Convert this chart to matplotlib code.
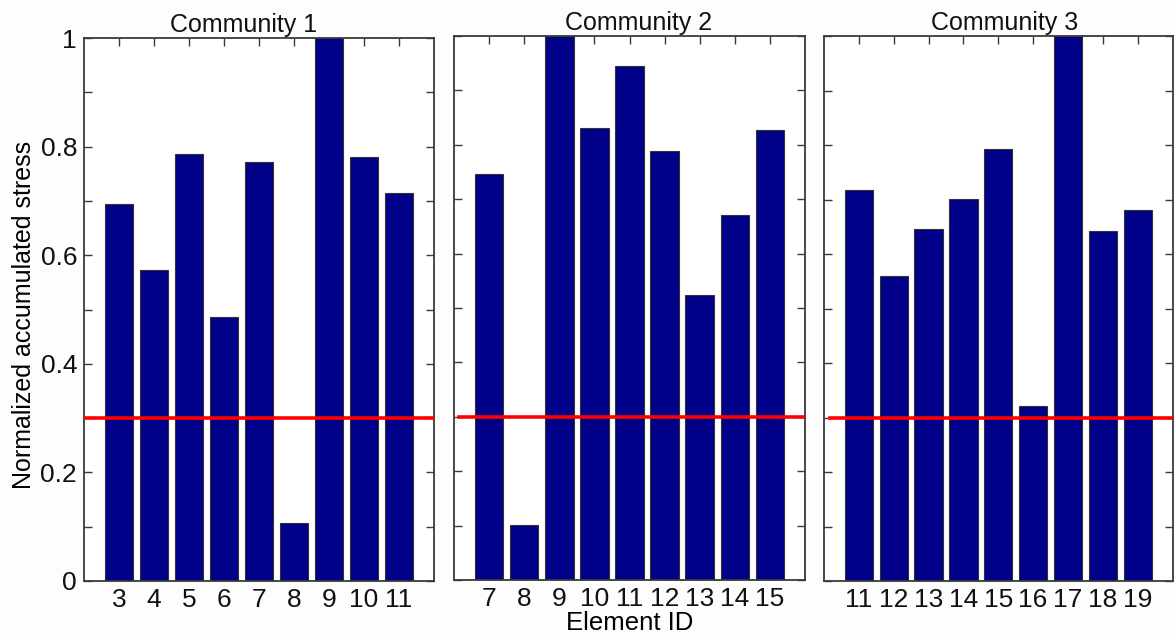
import matplotlib
matplotlib.use("Agg")
import matplotlib.pyplot as plt
import numpy as np

plt.rcParams['font.family'] = ['Liberation Sans', 'DejaVu Sans']

titles = ["Community 1", "Community 2", "Community 3"]
ids1 = [3, 4, 5, 6, 7, 8, 9, 10, 11]
vals1 = [0.695, 0.572, 0.786, 0.486, 0.771, 0.107, 1.0, 0.780, 0.715]
ids2 = [7, 8, 9, 10, 11, 12, 13, 14, 15]
vals2 = [0.746, 0.102, 1.0, 0.831, 0.945, 0.789, 0.524, 0.671, 0.827]
ids3 = [11, 12, 13, 14, 15, 16, 17, 18, 19]
vals3 = [0.718, 0.560, 0.645, 0.701, 0.793, 0.321, 1.0, 0.642, 0.681]
threshold = 0.3

ids_all = [ids1, ids2, ids3]
vals_all = [vals1, vals2, vals3]

W, H = 1174, 639
fig = plt.figure(figsize=(W / 100, H / 100), dpi=100)
fig.patch.set_facecolor('#fdfdfd')

boxes = [(84, 434, 38, 581), (454, 805, 36, 580), (824, 1172.5, 36, 581)]
line_start = [0.0, 0.013, 0.018]
title_x = [0.457, 0.527, 0.518]

bar_color = '#000088'
spine_color = '#3a3a3a'
fs = 19

axes = []
for i, (l, r, t, b) in enumerate(boxes):
    ax = fig.add_axes([l / W, (H - b) / H, (r - l) / W, (b - t) / H])
    axes.append(ax)
    ids = ids_all[i]
    vals = vals_all[i]
    ax.bar(ids, vals, width=0.81, color=bar_color, edgecolor='#333333', linewidth=0.8, zorder=2)
    ax.axhline(threshold, xmin=line_start[i], xmax=1, color='#ff0000', linewidth=2.6, zorder=3)
    ax.set_xlim(ids[0] - 1, ids[-1] + 1)
    ax.set_ylim(0, 1)
    ax.set_xticks(ids)
    ax.set_xticklabels([str(v) for v in ids], fontsize=fs)
    yt = np.round(np.arange(0, 1.01, 0.1), 1)
    ax.set_yticks(yt)
    if i == 0:
        ax.set_yticklabels(['0' if v == 0 else ('1' if v == 1 else ('%.1f' % v if round(v * 10) % 2 == 0 else '')) for v in yt], fontsize=fs)
        ax.set_ylabel('Normalized accumulated stress', fontsize=18, labelpad=6)
        ax.yaxis.set_label_coords(-0.137, 0.49)
    else:
        ax.set_yticklabels([])
    ax.tick_params(direction='in', length=6, width=1.0, color=spine_color,
                   top=True, right=True, bottom=True, left=True, pad=5, labelcolor='#111111')
    for s in ax.spines.values():
        s.set_linewidth(1.3)
        s.set_color(spine_color)
    ttl = ax.set_title(titles[i], fontsize=18, pad=4, color='#111111')
    ttl.set_x(title_x[i])
    if i == 1:
        ax.set_xlabel('Element ID', fontsize=18.5, labelpad=0)

fig.savefig('out.png', dpi=100, facecolor=fig.get_facecolor())
